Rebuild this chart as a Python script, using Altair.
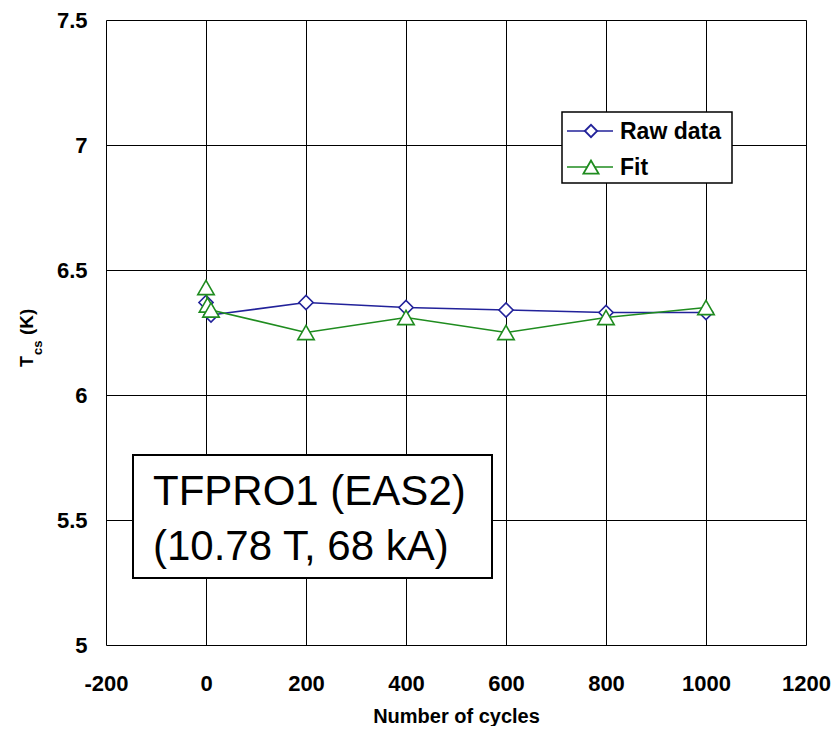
import altair as alt
import pandas as pd

# Data
raw_cycles = [0, 10, 200, 400, 600, 800, 1000]
raw_tcs = [6.37, 6.32, 6.37, 6.35, 6.34, 6.33, 6.33]

fit_cycles = [0, 3, 10, 200, 400, 600, 800, 1000]
fit_tcs = [6.43, 6.36, 6.34, 6.25, 6.31, 6.25, 6.31, 6.35]

x_ticks = [-200, 0, 200, 400, 600, 800, 1000, 1200]
y_ticks = [5, 5.5, 6, 6.5, 7, 7.5]

series_names = ["Raw data", "Fit"]
annot_lines = ["TFPRO1 (EAS2)", "(10.78 T, 68 kA)"]

BLUE = "#22229a"
GREEN = "#1f8c1f"
FONT = "Liberation Sans"

raw_df = pd.DataFrame({"cycles": raw_cycles, "tcs": raw_tcs, "i": range(len(raw_cycles))})
fit_df = pd.DataFrame({"cycles": fit_cycles, "tcs": fit_tcs, "i": range(len(fit_cycles))})

xs = alt.Scale(domain=[-200, 1200], nice=False, zero=False)
ys = alt.Scale(domain=[5, 7.5], nice=False, zero=False)

x_enc = alt.X("cycles:Q", scale=xs,
              axis=alt.Axis(values=x_ticks, labelExpr="'' + datum.value", title="Number of cycles",
                            grid=True, gridColor="#000000", gridOpacity=1, gridWidth=1,
                            ticks=False, domain=False, labelFont=FONT, labelFontSize=22,
                            labelFontWeight="bold", labelColor="#000000", labelPadding=28,
                            titleFont=FONT, titleFontSize=20, titleFontWeight="bold",
                            titleColor="#000000", titlePadding=12, labelFlush=False))
y_enc = alt.Y("tcs:Q", scale=ys,
              axis=alt.Axis(values=y_ticks, format="~g", title=None,
                            grid=True, gridColor="#000000", gridOpacity=1, gridWidth=1,
                            ticks=False, domain=False, labelFont=FONT, labelFontSize=22,
                            labelFontWeight="bold", labelColor="#000000", labelPadding=19,
                            labelFlush=False))

raw_line = alt.Chart(raw_df).mark_line(color=BLUE, strokeWidth=1.6).encode(
    x=x_enc, y=y_enc, order="i:Q")
raw_pts = alt.Chart(raw_df).mark_point(shape="diamond", size=200, filled=True, fill="white",
                                        stroke=BLUE, strokeWidth=1.6, opacity=1).encode(
    x="cycles:Q", y="tcs:Q")
fit_line = alt.Chart(fit_df).mark_line(color=GREEN, strokeWidth=1.6).encode(
    x="cycles:Q", y="tcs:Q", order="i:Q")
fit_pts = alt.Chart(fit_df).mark_point(shape="triangle-up", size=270, filled=True, fill="white",
                                        stroke=GREEN, strokeWidth=1.6, opacity=1).encode(
    x="cycles:Q", y="tcs:Q")

# Legend (drawn manually)
leg_df = pd.DataFrame({"name": series_names})
leg_box = alt.Chart(leg_df.head(1)).mark_rect(fill="white", stroke="black", strokeWidth=1.5).encode(
    x=alt.value(456), x2=alt.value(626), y=alt.value(92), y2=alt.value(163))
leg_layers = []
for nm, col, shp, sz, yy in [(series_names[0], BLUE, "diamond", 150, 111),
                             (series_names[1], GREEN, "triangle-up", 230, 147)]:
    d = pd.DataFrame({"name": [nm]})
    leg_layers.append(alt.Chart(d).mark_rule(color=col, strokeWidth=1.5).encode(
        x=alt.value(461), x2=alt.value(507), y=alt.value(yy)))
    leg_layers.append(alt.Chart(d).mark_point(shape=shp, size=sz, filled=True, fill="white",
                                              stroke=col, strokeWidth=1.8, opacity=1).encode(
        x=alt.value(485), y=alt.value(yy)))
    leg_layers.append(alt.Chart(d).mark_text(font=FONT, fontSize=23, fontWeight="bold",
                                             align="left", baseline="middle", color="black").encode(
        x=alt.value(514), y=alt.value(yy + 1), text="name:N"))

# Annotation box
ann_df = pd.DataFrame({"t": annot_lines})
ann_box = alt.Chart(ann_df.head(1)).mark_rect(fill="white", stroke="black", strokeWidth=2).encode(
    x=alt.value(27), x2=alt.value(386), y=alt.value(435), y2=alt.value(558))
ann_t1 = alt.Chart(ann_df.iloc[[0]]).mark_text(font=FONT, fontSize=42, align="left",
                                               baseline="alphabetic", color="black").encode(
    x=alt.value(47), y=alt.value(485), text="t:N")
ann_t2 = alt.Chart(ann_df.iloc[[1]]).mark_text(font=FONT, fontSize=42, align="left",
                                               baseline="alphabetic", color="black").encode(
    x=alt.value(47), y=alt.value(540), text="t:N")

# Y-axis title with subscript
yt = pd.DataFrame({"a": ["T"], "b": ["cs"], "c": ["(K)"]})
yt_T = alt.Chart(yt).mark_text(font=FONT, fontSize=18, fontWeight="bold", angle=270,
                               align="left", baseline="alphabetic", color="black").encode(
    x=alt.value(-73), y=alt.value(347), text="a:N")
yt_cs = alt.Chart(yt).mark_text(font=FONT, fontSize=13, fontWeight="bold", angle=270,
                                align="left", baseline="alphabetic", color="black").encode(
    x=alt.value(-64), y=alt.value(335), text="b:N")
yt_K = alt.Chart(yt).mark_text(font=FONT, fontSize=19, fontWeight="bold", angle=270,
                               align="left", baseline="alphabetic", color="black").encode(
    x=alt.value(-73), y=alt.value(315), text="c:N")

chart = alt.layer(
    raw_line, raw_pts, fit_line, fit_pts,
    ann_box, ann_t1, ann_t2,
    leg_box, *leg_layers,
    yt_T, yt_cs, yt_K,
).properties(
    width=700, height=625,
    autosize=alt.AutoSizeParams(type="none"),
    padding={"left": 98, "top": 12, "right": 25, "bottom": 81},
).configure_view(
    stroke="black", strokeWidth=1.5
).configure(background="white")

chart.save("out.html", embed_options={"renderer": "svg", "actions": False})
